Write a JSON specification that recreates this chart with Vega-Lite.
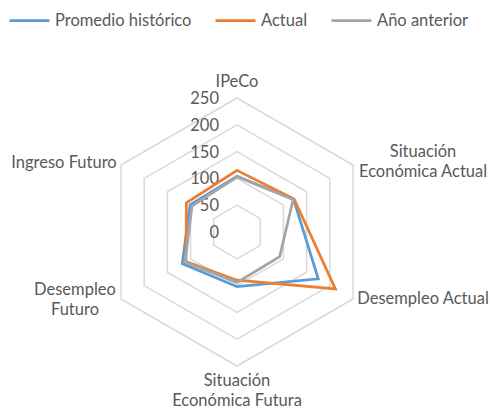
{
  "$schema": "https://vega.github.io/schema/vega-lite/v6.json",
  "width": 491,
  "height": 409,
  "padding": 0,
  "autosize": {"type": "none"},
  "background": "white",
  "config": {"view": {"stroke": null}, "font": "Lato"},
  "datasets": {
    "series": [
      {"serie": "Promedio histórico", "eje": "IPeCo", "valor": 104},
      {"serie": "Promedio histórico", "eje": "Situación Económica Actual", "valor": 122},
      {"serie": "Promedio histórico", "eje": "Desempleo Actual", "valor": 175},
      {"serie": "Promedio histórico", "eje": "Situación Económica Futura", "valor": 102},
      {"serie": "Promedio histórico", "eje": "Desempleo Futuro", "valor": 118},
      {"serie": "Promedio histórico", "eje": "Ingreso Futuro", "valor": 101},
      {"serie": "Actual", "eje": "IPeCo", "valor": 115},
      {"serie": "Actual", "eje": "Situación Económica Actual", "valor": 123},
      {"serie": "Actual", "eje": "Desempleo Actual", "valor": 212},
      {"serie": "Actual", "eje": "Situación Económica Futura", "valor": 90},
      {"serie": "Actual", "eje": "Desempleo Futuro", "valor": 110},
      {"serie": "Actual", "eje": "Ingreso Futuro", "valor": 109},
      {"serie": "Año anterior", "eje": "IPeCo", "valor": 103},
      {"serie": "Año anterior", "eje": "Situación Económica Actual", "valor": 121},
      {"serie": "Año anterior", "eje": "Desempleo Actual", "valor": 92},
      {"serie": "Año anterior", "eje": "Situación Económica Futura", "valor": 94},
      {"serie": "Año anterior", "eje": "Desempleo Futuro", "valor": 112},
      {"serie": "Año anterior", "eje": "Ingreso Futuro", "valor": 97}
    ],
    "grid": [
      {"nivel": 50, "eje": "IPeCo"}, {"nivel": 50, "eje": "Situación Económica Actual"}, {"nivel": 50, "eje": "Desempleo Actual"}, {"nivel": 50, "eje": "Situación Económica Futura"}, {"nivel": 50, "eje": "Desempleo Futuro"}, {"nivel": 50, "eje": "Ingreso Futuro"},
      {"nivel": 100, "eje": "IPeCo"}, {"nivel": 100, "eje": "Situación Económica Actual"}, {"nivel": 100, "eje": "Desempleo Actual"}, {"nivel": 100, "eje": "Situación Económica Futura"}, {"nivel": 100, "eje": "Desempleo Futuro"}, {"nivel": 100, "eje": "Ingreso Futuro"},
      {"nivel": 150, "eje": "IPeCo"}, {"nivel": 150, "eje": "Situación Económica Actual"}, {"nivel": 150, "eje": "Desempleo Actual"}, {"nivel": 150, "eje": "Situación Económica Futura"}, {"nivel": 150, "eje": "Desempleo Futuro"}, {"nivel": 150, "eje": "Ingreso Futuro"},
      {"nivel": 200, "eje": "IPeCo"}, {"nivel": 200, "eje": "Situación Económica Actual"}, {"nivel": 200, "eje": "Desempleo Actual"}, {"nivel": 200, "eje": "Situación Económica Futura"}, {"nivel": 200, "eje": "Desempleo Futuro"}, {"nivel": 200, "eje": "Ingreso Futuro"},
      {"nivel": 250, "eje": "IPeCo"}, {"nivel": 250, "eje": "Situación Económica Actual"}, {"nivel": 250, "eje": "Desempleo Actual"}, {"nivel": 250, "eje": "Situación Económica Futura"}, {"nivel": 250, "eje": "Desempleo Futuro"}, {"nivel": 250, "eje": "Ingreso Futuro"}
    ],
    "ticks": [
      {"nivel": 0}, {"nivel": 50}, {"nivel": 100}, {"nivel": 150}, {"nivel": 200}, {"nivel": 250}
    ],
    "ejes": [
      {"eje": "IPeCo", "etiqueta": "IPeCo", "nivel": 250},
      {"eje": "Situación Económica Actual", "etiqueta": "Situación\nEconómica Actual", "nivel": 250},
      {"eje": "Desempleo Actual", "etiqueta": "Desempleo Actual", "nivel": 250},
      {"eje": "Situación Económica Futura", "etiqueta": "Situación\nEconómica Futura", "nivel": 250},
      {"eje": "Desempleo Futuro", "etiqueta": "Desempleo\nFuturo", "nivel": 250},
      {"eje": "Ingreso Futuro", "etiqueta": "Ingreso Futuro", "nivel": 250}
    ]
  },
  "layer": [
    {
      "data": {"name": "grid"},
      "transform": [
        {"calculate": "indexof(['IPeCo','Situación Económica Actual','Desempleo Actual','Situación Económica Futura','Desempleo Futuro','Ingreso Futuro'], datum.eje)", "as": "idx"},
        {"calculate": "datum.nivel * sin(datum.idx * PI / 3)", "as": "px"},
        {"calculate": "datum.nivel * cos(datum.idx * PI / 3)", "as": "py"}
      ],
      "mark": {"type": "line", "interpolate": "linear-closed", "stroke": "#D9D9D9", "strokeWidth": 1.5},
      "encoding": {
        "x": {"field": "px", "type": "quantitative", "scale": {"domain": [-442.2, 473.9], "nice": false, "zero": false}, "axis": null},
        "y": {"field": "py", "type": "quantitative", "scale": {"domain": [-330.2, 432.8], "nice": false, "zero": false}, "axis": null},
        "detail": {"field": "nivel", "type": "nominal"},
        "order": {"field": "idx", "type": "quantitative"}
      }
    },
    {
      "data": {"name": "ticks"},
      "transform": [
        {"calculate": "0", "as": "px"},
        {"calculate": "datum.nivel", "as": "py"}
      ],
      "mark": {"type": "text", "align": "right", "baseline": "middle", "dx": -18, "dy": 1, "fontSize": 16.5, "color": "#595959"},
      "encoding": {
        "x": {"field": "px", "type": "quantitative"},
        "y": {"field": "py", "type": "quantitative"},
        "text": {"field": "nivel", "type": "quantitative"}
      }
    },
    {
      "data": {"name": "series"},
      "transform": [
        {"calculate": "indexof(['IPeCo','Situación Económica Actual','Desempleo Actual','Situación Económica Futura','Desempleo Futuro','Ingreso Futuro'], datum.eje)", "as": "idx"},
        {"calculate": "datum.valor * sin(datum.idx * PI / 3)", "as": "px"},
        {"calculate": "datum.valor * cos(datum.idx * PI / 3)", "as": "py"}
      ],
      "mark": {"type": "line", "interpolate": "linear-closed", "strokeWidth": 2.75, "strokeJoin": "miter"},
      "encoding": {
        "x": {"field": "px", "type": "quantitative"},
        "y": {"field": "py", "type": "quantitative"},
        "order": {"field": "idx", "type": "quantitative"},
        "color": {
          "field": "serie", "type": "nominal",
          "scale": {"domain": ["Promedio histórico", "Actual", "Año anterior"], "range": ["#5B9BD5", "#ED7D31", "#A5A5A5"]},
          "legend": {
            "title": null, "orient": "none", "legendX": 8, "legendY": -1, "direction": "horizontal",
            "symbolType": "stroke", "symbolSize": 1600, "symbolStrokeWidth": 2.75,
            "labelFontSize": 16.5, "labelColor": "#595959", "labelFont": "Lato", "labelOffset": 4, "columnPadding": 18
          }
        }
      }
    },
    {
      "data": {"name": "ejes"},
      "transform": [
        {"filter": "datum.eje == 'IPeCo'"},
        {"calculate": "datum.nivel * sin(0)", "as": "px"},
        {"calculate": "datum.nivel * cos(0)", "as": "py"}
      ],
      "mark": {"type": "text", "align": "center", "baseline": "middle", "dx": 0, "dy": -16, "fontSize": 16.5, "color": "#595959", "lineBreak": "\n", "lineHeight": 20},
      "encoding": {"x": {"field": "px", "type": "quantitative"}, "y": {"field": "py", "type": "quantitative"}, "text": {"field": "etiqueta"}}
    },
    {
      "data": {"name": "ejes"},
      "transform": [
        {"filter": "datum.eje == 'Situación Económica Actual'"},
        {"calculate": "datum.nivel * sin(PI / 3)", "as": "px"},
        {"calculate": "datum.nivel * cos(PI / 3)", "as": "py"}
      ],
      "mark": {"type": "text", "align": "center", "baseline": "middle", "dx": 70, "dy": -13, "fontSize": 16.5, "color": "#595959", "lineBreak": "\n", "lineHeight": 20},
      "encoding": {"x": {"field": "px", "type": "quantitative"}, "y": {"field": "py", "type": "quantitative"}, "text": {"field": "etiqueta"}}
    },
    {
      "data": {"name": "ejes"},
      "transform": [
        {"filter": "datum.eje == 'Desempleo Actual'"},
        {"calculate": "datum.nivel * sin(2 * PI / 3)", "as": "px"},
        {"calculate": "datum.nivel * cos(2 * PI / 3)", "as": "py"}
      ],
      "mark": {"type": "text", "align": "center", "baseline": "middle", "dx": 70, "dy": 0, "fontSize": 16.5, "color": "#595959", "lineBreak": "\n", "lineHeight": 20},
      "encoding": {"x": {"field": "px", "type": "quantitative"}, "y": {"field": "py", "type": "quantitative"}, "text": {"field": "etiqueta"}}
    },
    {
      "data": {"name": "ejes"},
      "transform": [
        {"filter": "datum.eje == 'Situación Económica Futura'"},
        {"calculate": "datum.nivel * sin(PI)", "as": "px"},
        {"calculate": "datum.nivel * cos(PI)", "as": "py"}
      ],
      "mark": {"type": "text", "align": "center", "baseline": "middle", "dx": 0, "dy": 15, "fontSize": 16.5, "color": "#595959", "lineBreak": "\n", "lineHeight": 20},
      "encoding": {"x": {"field": "px", "type": "quantitative"}, "y": {"field": "py", "type": "quantitative"}, "text": {"field": "etiqueta"}}
    },
    {
      "data": {"name": "ejes"},
      "transform": [
        {"filter": "datum.eje == 'Desempleo Futuro'"},
        {"calculate": "datum.nivel * sin(4 * PI / 3)", "as": "px"},
        {"calculate": "datum.nivel * cos(4 * PI / 3)", "as": "py"}
      ],
      "mark": {"type": "text", "align": "center", "baseline": "middle", "dx": -46, "dy": -9, "fontSize": 16.5, "color": "#595959", "lineBreak": "\n", "lineHeight": 20},
      "encoding": {"x": {"field": "px", "type": "quantitative"}, "y": {"field": "py", "type": "quantitative"}, "text": {"field": "etiqueta"}}
    },
    {
      "data": {"name": "ejes"},
      "transform": [
        {"filter": "datum.eje == 'Ingreso Futuro'"},
        {"calculate": "datum.nivel * sin(5 * PI / 3)", "as": "px"},
        {"calculate": "datum.nivel * cos(5 * PI / 3)", "as": "py"}
      ],
      "mark": {"type": "text", "align": "center", "baseline": "middle", "dx": -57, "dy": -2, "fontSize": 16.5, "color": "#595959", "lineBreak": "\n", "lineHeight": 20},
      "encoding": {"x": {"field": "px", "type": "quantitative"}, "y": {"field": "py", "type": "quantitative"}, "text": {"field": "etiqueta"}}
    }
  ]
}
